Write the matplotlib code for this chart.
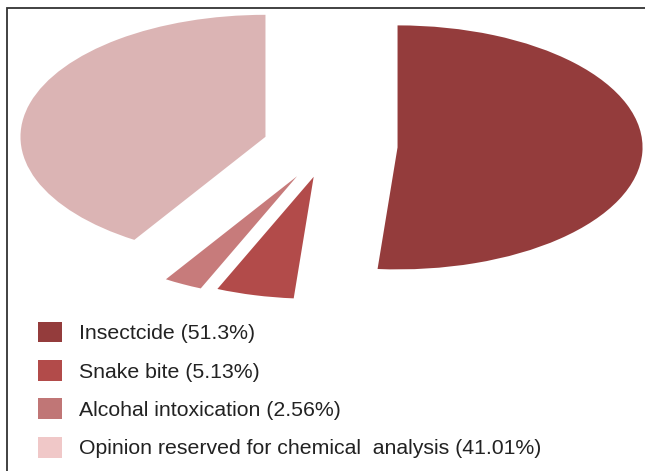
import matplotlib.pyplot as plt
from matplotlib.patches import Rectangle

labels = ["Insectcide (51.3%)", "Snake bite (5.13%)", "Alcohal intoxication (2.56%)",
          "Opinion reserved for chemical  analysis (41.01%)"]
shares = [51.3, 5.13, 2.56, 41.01]
pie_colors = ["#943C3C", "#B24B4A", "#C77B7B", "#DBB4B4"]
legend_colors = ["#943C3C", "#B24B4A", "#C07676", "#F0C8C8"]
explode = [0.28, 0.26, 0.28, 0.27]

plt.rcParams["font.family"] = ["Liberation Sans", "DejaVu Sans"]

W, H = 645, 471
fig = plt.figure(figsize=(W / 100, H / 100), dpi=100)
ax = fig.add_axes([0, 0, 1, 1])

wedges, _ = ax.pie(shares, colors=pie_colors, explode=explode, startangle=90,
                   counterclock=False, radius=1.0)

# squash the pie into an ellipse
cx, cy = 329, 146
rx, ry = 245, 122
ax.set_xlim(-cx / rx, (W - cx) / rx)
ax.set_ylim(-(H - cy) / ry, cy / ry)
ax.set_aspect("auto")
ax.axis("off")

leg = ax.legend(wedges, labels, loc="upper left", bbox_to_anchor=(29 / W, 1 - 313 / H),
                frameon=False, fontsize=15.3, handlelength=1.13, handleheight=1.13,
                handletextpad=0.82, labelspacing=0.79, borderaxespad=0)
for h, c in zip(leg.legend_handles, legend_colors):
    h.set_facecolor(c)
    h.set_edgecolor("none")
for t in leg.get_texts():
    t.set_color("#222222")

# frame around the chart (only top and left edges fall inside the image)
fig.patches.append(Rectangle((7 / W, -0.1), 1.2, (H - 8) / H + 0.1, transform=fig.transFigure,
                             fill=False, edgecolor="#333333", linewidth=1.3))

fig.savefig("out.png", dpi=100)
